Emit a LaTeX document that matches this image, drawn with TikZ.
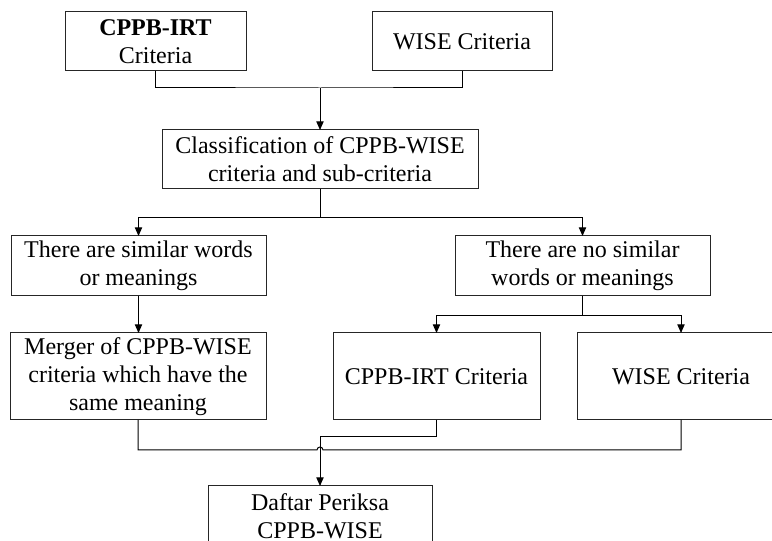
\documentclass[tikz,border=0pt]{standalone}
\usepackage{fontspec}
\setmainfont{Liberation Serif}
\usetikzlibrary{arrows.meta}
\begin{document}
\begin{tikzpicture}[x=0.75pt,y=-0.75pt,
  flowbox/.style 2 args={draw=black!85, line width=0.75pt, rectangle, inner sep=0pt, outer sep=0pt, align=center,
    minimum width=#1*0.75pt, minimum height=#2*0.75pt, font=\fontsize{18}{21}\selectfont},
  conn/.style={line width=0.75pt, black},
  arr/.style={conn, -{Triangle[length=6.5pt,width=5.5pt]}}]
\useasboundingbox (0,0) rectangle (772,541);
\clip (0,0) rectangle (772,541);

\node[flowbox={181}{59}] (A) at (155.5,41.5) {\textbf{CPPB-IRT}\\Criteria};
\node[flowbox={180}{59}] (B) at (462,41.5) {WISE Criteria};
\node[flowbox={316}{59}] (C) at (320,159.5) {Classification of CPPB-WISE\\criteria and sub-criteria};
\node[flowbox={255}{60}] (D) at (138.5,266) {There are similar words\\or meanings};
\node[flowbox={255}{60}] (E) at (582.5,266) {There are no similar\\words or meanings};
\node[flowbox={256}{87}] (F) at (138,376.5) {Merger of CPPB-WISE\\criteria which have the\\same meaning};
\node[flowbox={207}{87}] (G) at (436.5,376.5) {CPPB-IRT Criteria};
\node[flowbox={208}{87}] (H) at (681,376.5) {WISE Criteria};
\node[flowbox={224}{60}] (I) at (320,516) {Daftar Periksa\\CPPB-WISE};

\coordinate (j1) at (320,88);
\coordinate (j2) at (320,218);
\coordinate (j3) at (582.5,316);
\coordinate (hopL) at (317,450);
\coordinate (kG) at (320,437);

\draw[conn] (A.south) |- (j1) -| (B.south);
\draw[arr] (j1) -- (C.north);
\draw[conn] (C.south) -- (j2);
\draw[arr] (j2) -| (D.north);
\draw[arr] (j2) -| (E.north);
\draw[arr] (D.south) -- (D.south |- F.north);
\draw[conn] (E.south) -- (j3);
\draw[arr] (j3) -| (G.north);
\draw[arr] (j3) -| (H.north);
\draw[conn] (F.south) |- (hopL) arc (180:0:2.25pt) -| (H.south);
\draw[arr] (G.south) |- (kG) -- (I.north);
\end{tikzpicture}
\end{document}
